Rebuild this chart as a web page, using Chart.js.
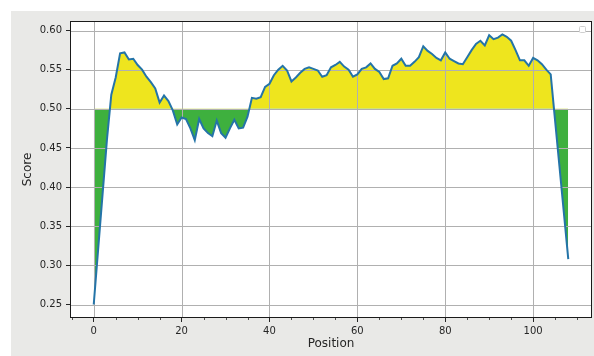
<!DOCTYPE html>
<html>
<head>
<meta charset="utf-8">
<script src="https://cdn.jsdelivr.net/npm/chart.js@4/dist/chart.umd.min.js"></script>
<style>
  html, body { margin: 0; padding: 0; background: #ffffff; }
  canvas { display: block; }
</style>
</head>
<body>
<canvas id="chart" width="594" height="356"></canvas>
<script>
// Residue positions along the sequence
const positions = [
  0, 1, 2, 3, 4, 5, 6, 7, 8, 9,
  10, 11, 12, 13, 14, 15, 16, 17, 18, 19,
  20, 21, 22, 23, 24, 25, 26, 27, 28, 29,
  30, 31, 32, 33, 34, 35, 36, 37, 38, 39,
  40, 41, 42, 43, 44, 45, 46, 47, 48, 49,
  50, 51, 52, 53, 54, 55, 56, 57, 58, 59,
  60, 61, 62, 63, 64, 65, 66, 67, 68, 69,
  70, 71, 72, 73, 74, 75, 76, 77, 78, 79,
  80, 81, 82, 83, 84, 85, 86, 87, 88, 89,
  90, 91, 92, 93, 94, 95, 96, 97, 98, 99,
  100, 101, 102, 103, 104, 105, 106, 107, 108
];

// Score at each position
const scores = [
  0.250, 0.320, 0.390, 0.460, 0.518, 0.540, 0.571, 0.572, 0.563, 0.564,
  0.556, 0.550, 0.541, 0.534, 0.526, 0.508, 0.517, 0.510, 0.498, 0.480,
  0.489, 0.487, 0.475, 0.460, 0.487, 0.475, 0.469, 0.465, 0.485, 0.469,
  0.463, 0.475, 0.486, 0.475, 0.476, 0.490, 0.514, 0.513, 0.515, 0.528,
  0.532, 0.543, 0.550, 0.555, 0.549, 0.535, 0.540, 0.546, 0.551, 0.553,
  0.551, 0.549, 0.541, 0.543, 0.553, 0.556, 0.560, 0.554, 0.550, 0.541,
  0.544, 0.551, 0.553, 0.558, 0.551, 0.547, 0.538, 0.539, 0.555, 0.558,
  0.564, 0.555, 0.555, 0.560, 0.566, 0.580, 0.574, 0.570, 0.565, 0.562,
  0.572, 0.564, 0.561, 0.558, 0.557, 0.566, 0.575, 0.583, 0.587, 0.581,
  0.594, 0.589, 0.591, 0.595, 0.592, 0.587, 0.575, 0.562, 0.562, 0.555,
  0.565, 0.562, 0.557, 0.550, 0.544, 0.485, 0.426, 0.367, 0.308
];

// Threshold the area is filled against
const threshold = 0.5;

// Axis ticks
const xTicks = [0, 20, 40, 60, 80, 100];
const xMinorTicks = [-5, 5, 10, 15, 25, 30, 35, 45, 50, 55, 65, 70, 75, 85, 90, 95, 105, 110];
const yTicks = [0.25, 0.30, 0.35, 0.40, 0.45, 0.50, 0.55, 0.60];

const points = positions.map((p, i) => ({ x: p, y: scores[i] }));

const TEXT = '#262626';
const GRID = '#b0b0b0';
const FONT = 'DejaVu Sans';

// Figure background, white axes face, and the empty legend box
const framePlugin = {
  id: 'frame',
  beforeDraw(chart) {
    const { ctx, chartArea: a, width, height } = chart;
    ctx.save();
    ctx.fillStyle = '#ffffff';
    ctx.fillRect(0, 0, width, height);
    ctx.fillStyle = '#e9e9e7';
    ctx.fillRect(11, 11, width - 11, height - 11);
    ctx.fillStyle = '#ffffff';
    ctx.fillRect(a.left, a.top, a.right - a.left, a.bottom - a.top);
    ctx.restore();
  },
  // grid sits above the filled area but below the score line
  afterDatasetDraw(chart, args) {
    if (args.index !== 1) return;
    const { ctx, chartArea: a, scales } = chart;
    ctx.save();
    ctx.beginPath();
    ctx.rect(a.left, a.top, a.right - a.left, a.bottom - a.top);
    ctx.clip();
    ctx.strokeStyle = GRID;
    ctx.lineWidth = 1;
    ctx.beginPath();
    xTicks.forEach(v => {
      const x = Math.round(scales.x.getPixelForValue(v)) + 0.5;
      ctx.moveTo(x, a.top);
      ctx.lineTo(x, a.bottom);
    });
    yTicks.forEach(v => {
      const y = Math.round(scales.y.getPixelForValue(v)) + 0.5;
      ctx.moveTo(a.left, y);
      ctx.lineTo(a.right, y);
    });
    ctx.stroke();
    ctx.restore();
  },
  afterDraw(chart) {
    const { ctx, chartArea: a, scales } = chart;
    ctx.save();
    // minor ticks on the x axis
    ctx.strokeStyle = TEXT;
    ctx.lineWidth = 0.8;
    ctx.beginPath();
    xMinorTicks.forEach(v => {
      const x = Math.round(scales.x.getPixelForValue(v)) + 0.5;
      if (x < a.left || x > a.right) return;
      ctx.moveTo(x, a.bottom);
      ctx.lineTo(x, a.bottom + 2);
    });
    ctx.stroke();
    // axes frame
    ctx.strokeStyle = '#1a1a1a';
    ctx.lineWidth = 1;
    ctx.strokeRect(Math.round(a.left) + 0.5, Math.round(a.top) + 0.5,
      Math.round(a.right - a.left) - 1, Math.round(a.bottom - a.top) - 1);
    // empty legend box
    ctx.fillStyle = '#ffffff';
    ctx.strokeStyle = '#cfcfcf';
    ctx.beginPath();
    ctx.roundRect(a.right - 12.5, a.top + 5.5, 6, 6, 1);
    ctx.fill();
    ctx.stroke();
    ctx.restore();
  }
};

new Chart(document.getElementById('chart'), {
  type: 'line',
  data: {
    datasets: [
      {
        label: 'Score',
        data: points,
        borderColor: '#2474a8',
        borderWidth: 2,
        pointRadius: 0,
        tension: 0,
        fill: false
      },
      {
        label: 'area',
        data: points,
        borderColor: 'transparent',
        borderWidth: 0,
        pointRadius: 0,
        tension: 0,
        fill: {
          target: { value: threshold },
          above: 'rgb(238, 229, 30)',
          below: 'rgb(62, 176, 62)'
        }
      }
    ]
  },
  options: {
    responsive: false,
    animation: false,
    devicePixelRatio: 1,
    layout: { padding: { top: 21, right: 2, left: 0, bottom: 0 } },
    plugins: {
      legend: { display: false },
      tooltip: { enabled: false }
    },
    scales: {
      x: {
        type: 'linear',
        min: -5.4,
        max: 113.4,
        afterBuildTicks: s => { s.ticks = xTicks.map(v => ({ value: v })); },
        afterFit: s => { s.height = 38; },
        ticks: {
          color: TEXT,
          font: { family: FONT, size: 10 },
          padding: 3,
          maxRotation: 0,
          callback: v => String(v)
        },
        grid: { color: 'rgba(0,0,0,0)', tickColor: TEXT, tickLength: 4, drawOnChartArea: false },
        border: { display: false },
        title: {
          display: true,
          text: 'Position',
          color: TEXT,
          font: { family: FONT, size: 12 },
          padding: { top: 0, bottom: 5 }
        }
      },
      y: {
        type: 'linear',
        min: 0.2328,
        max: 0.6122,
        afterBuildTicks: s => { s.ticks = yTicks.map(v => ({ value: v })); },
        afterFit: s => { s.width = 70; },
        ticks: {
          color: TEXT,
          font: { family: FONT, size: 10 },
          padding: 4,
          callback: v => Number(v).toFixed(2)
        },
        grid: { color: 'rgba(0,0,0,0)', tickColor: TEXT, tickLength: 4, drawOnChartArea: false },
        border: { display: false },
        title: {
          display: true,
          text: 'Score',
          color: TEXT,
          font: { family: FONT, size: 12 },
          padding: { top: 21, bottom: 0 }
        }
      }
    }
  },
  plugins: [framePlugin]
});
</script>
</body>
</html>
